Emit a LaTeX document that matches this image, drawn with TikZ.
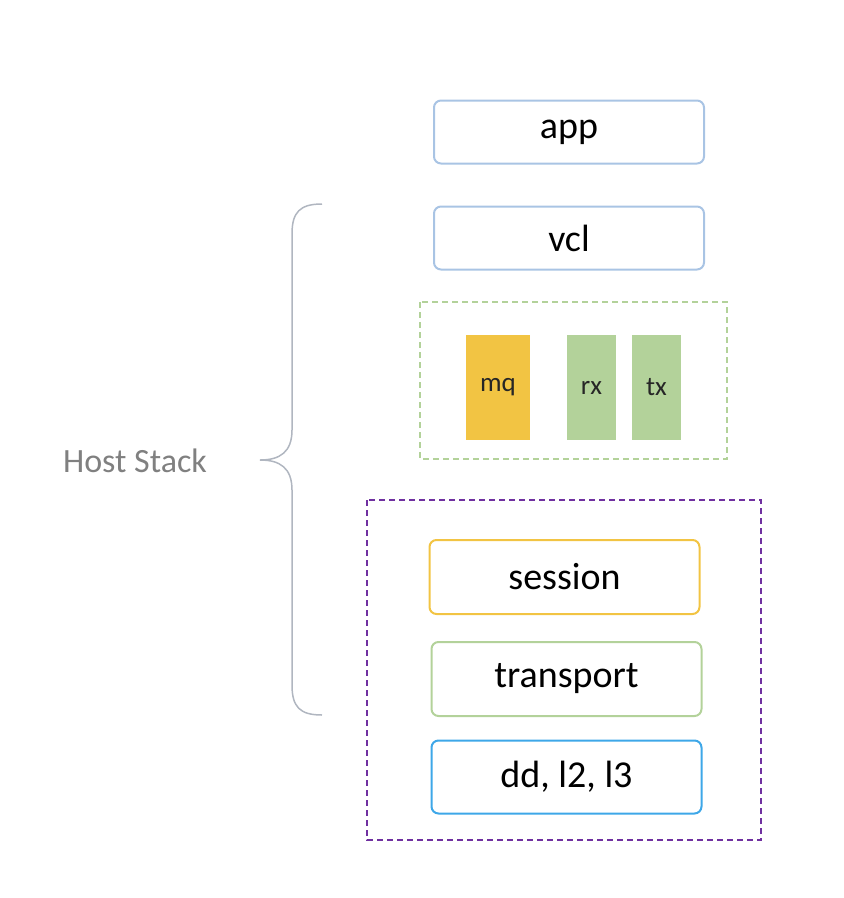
\documentclass[tikz,border=0pt]{standalone}
\usepackage{fontspec}
\setmainfont{Carlito}
\usetikzlibrary{positioning}
\definecolor{boxblue}{HTML}{A9C4E4}
\definecolor{mqyellow}{HTML}{F2C443}
\definecolor{rxgreen}{HTML}{B3D29A}
\definecolor{ddblue}{HTML}{3EA7E8}
\definecolor{stackpurple}{HTML}{7030A0}
\definecolor{bracegray}{HTML}{B0B6C0}
\tikzset{layerbox/.style={draw,rounded corners=7pt,line width=2pt,minimum width=270pt,minimum height=63pt,font=\fontsize{38}{40}\selectfont},
    queuebox/.style={minimum width=49pt,minimum height=105pt,font=\fontsize{27}{29}\selectfont,text=black!85},
    groupbox/.style={draw,dash pattern=on 6pt off 4pt,line width=1.8pt}
}
\begin{document}
\begin{tikzpicture}[x=1pt,y=-1pt]
\useasboundingbox (0,0) rectangle (844,898);

\node (app) at (569,132) [layerbox,draw=boxblue] {app};
\node (vcl) at (569,238) [layerbox,draw=boxblue] {vcl};

% fifos
\draw [groupbox,rxgreen] (420,302) rectangle (727,459);
\node (mq) at (498,387.5) [queuebox,fill=mqyellow,minimum width=64pt] {mq};
\node (rx) at (591.5,387.5) [queuebox,fill=rxgreen] {rx};
\node (tx) at (656.5,387.5) [queuebox,fill=rxgreen] {tx};

% host stack layers
\draw [groupbox,stackpurple] (367,500) rectangle (761,840);
\node (session) at (564.5,577) [layerbox,draw=mqyellow,minimum height=74pt] {session};
\node (transport) at (566.5,679) [layerbox,draw=rxgreen,minimum height=74pt] {transport};
\node (dd) at (566.5,777) [layerbox,draw=ddblue,minimum height=73pt] {dd, l2, l3};

% brace
\draw [bracegray,line width=1.5pt] (322,204) .. controls (300,204) and (292,212) .. (292,234)
    -- (292,430) .. controls (292,452) and (280,460) .. (260,460)
    .. controls (280,460) and (292,468) .. (292,490)
    -- (292,685) .. controls (292,707) and (300,715) .. (322,715);
\node (host) at (135,461) [text=black!50,font=\fontsize{34}{36}\selectfont] {Host Stack};
\end{tikzpicture}
\end{document}
